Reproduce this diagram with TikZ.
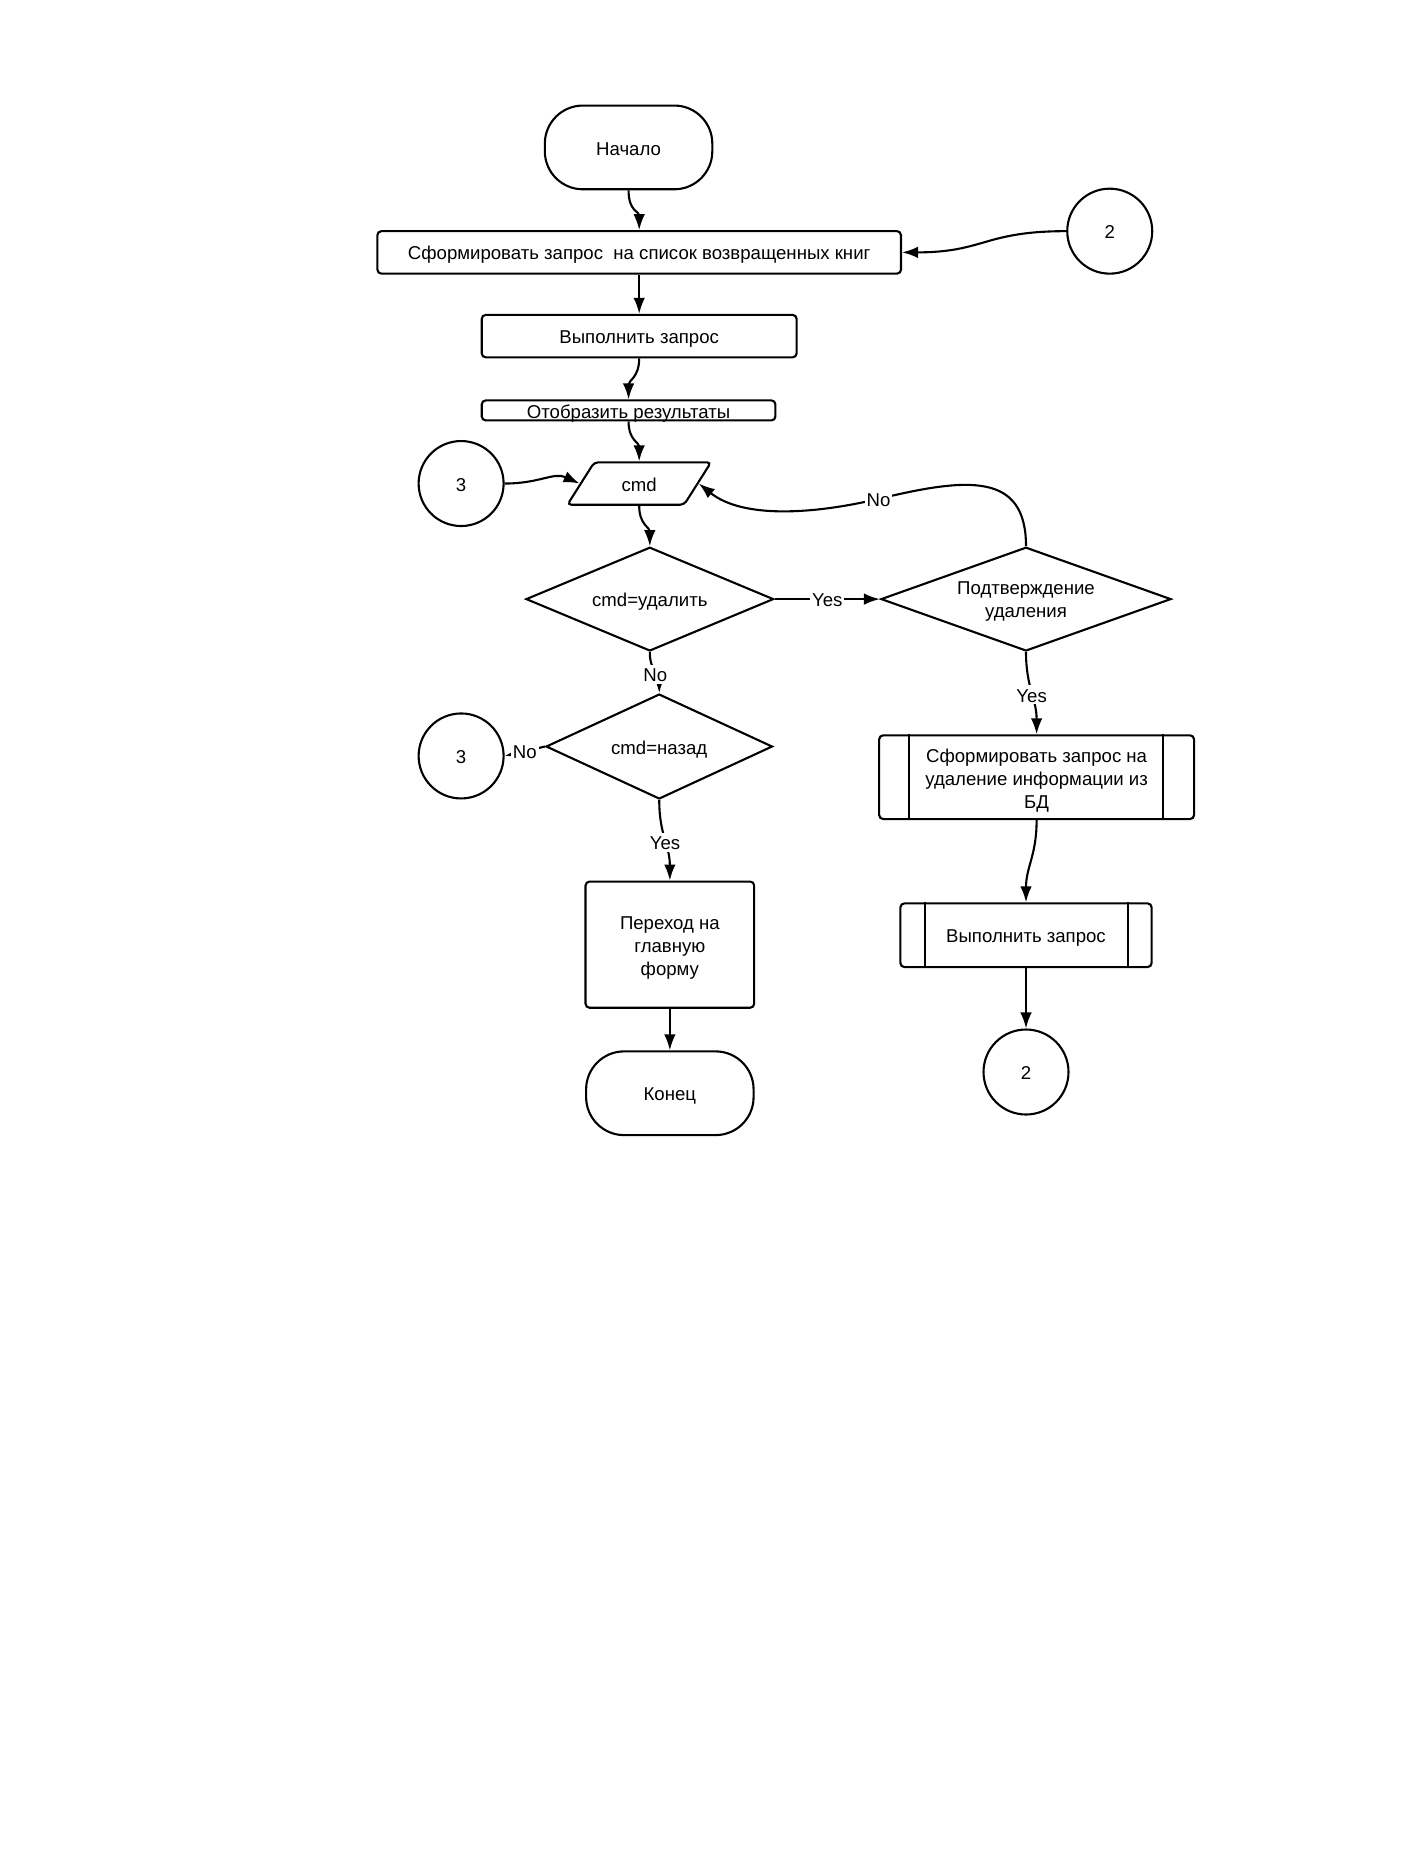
\documentclass[tikz,border=0pt]{standalone}
\usepackage{fontspec}
\setmainfont{Liberation Sans}
\usetikzlibrary{shapes.geometric,arrows.meta}
\begin{document}
\begin{tikzpicture}[x=0.5897pt,y=-0.5897pt,
  every node/.style={font=\fontsize{9.3}{11.5}\selectfont},
  sz/.style 2 args={minimum width=#1*0.5897pt,minimum height=#2*0.5897pt},
  txt/.style={text height=7.6pt,text depth=0pt},
  base/.style={draw,line width=1.05pt,inner sep=1pt,align=center,txt},
  term/.style={base,rectangle,rounded corners=19pt,sz={142}{71}},
  procbox/.style={base,rectangle,rounded corners=2pt},
  conn/.style={base,circle,minimum size=42.5pt},
  decide/.style={base,diamond,inner sep=0pt,shape aspect=2.6},
  io/.style={base,trapezium,trapezium left angle=58.6,trapezium right angle=121.4,trapezium stretches=true,rounded corners=2pt,sz={122}{36}},
  multi/.style={align=center,inner sep=0pt},
  bar/.style={line width=1.05pt},
  arr/.style={line width=1.05pt,-{Latex[length=8pt,width=5.8pt]}},
  lbl/.style={fill=white,inner sep=1pt,txt}]
\useasboundingbox (0,0) rectangle (1210,1570.4);
% nodes
\node[term] (start) at (533,125) {Начало};
\node[conn] (c2a) at (941,196) {2};
\node[procbox,sz={444}{36}] (b1) at (542,214) {Сформировать запрос\ \ на список возвращенных книг};
\node[procbox,sz={267}{36}] (b2) at (542,285) {Выполнить запрос};
\node[procbox,sz={249}{17},inner sep=0pt,text height=0pt] (b3) at (533,348) {};
\node[inner sep=0pt,txt] (b3t) at (533,348) {Отобразить результаты};
\node[io] (cmd) at (542,410) {cmd};
\node[conn] (c3a) at (391,410) {3};
\node[decide,sz={210}{88}] (d1) at (551,508) {cmd=удалить};
\node[decide,sz={246}{88}] (d2) at (870,508) {};
\node[multi] (d2t) at (870,510) {Подтверждение\\удаления};
\node[decide,sz={192}{89}] (d3) at (559,633) {cmd=назад};
\node[conn] (c3b) at (391,641) {3};
\node[procbox,sz={267}{71}] (s1) at (879,659) {};
\node[multi] (s1t) at (879,662) {Сформировать запрос на\\удаление информации из\\БД};
\draw[bar] ([xshift=15.3pt]s1.north west) -- ([xshift=15.3pt]s1.south west);
\draw[bar] ([xshift=-15.9pt]s1.north east) -- ([xshift=-15.9pt]s1.south east);
\node[procbox,sz={213}{54}] (s2) at (870,793) {Выполнить запрос};
\draw[bar] ([xshift=13pt]s2.north west) -- ([xshift=13pt]s2.south west);
\draw[bar] ([xshift=-12.4pt]s2.north east) -- ([xshift=-12.4pt]s2.south east);
\node[conn] (c2b) at (870,909) {2};
\node[procbox,sz={143}{107}] (go) at (568,801) {};
\node[multi] (got) at (568,804) {Переход на\\главную\\форму};
\node[term] (fin) at (568,927) {Конец};
% connectors
\draw[arr] (start.south) .. controls +(0,18) and +(0,-16) .. (b1.north);
\draw[arr] (c2a.west) .. controls +(-70,0) and +(70,0) .. (b1.east);
\draw[arr] (b1.south) -- (b2.north);
\draw[arr] (b2.south) .. controls +(0,16) and +(0,-16) .. (b3.north);
\draw[arr] (b3.south) .. controls +(0,16) and +(0,-16) .. (cmd.north);
\draw[arr] (c3a.east) .. controls +(30,0) and +(-22,-10) .. (cmd.west);
\draw[arr] (cmd.south) .. controls +(0,16) and +(0,-16) .. (d1.north);
\draw[arr] (d1.east) -- node[lbl,pos=0.5] {Yes} (d2.west);
\draw[arr] (d2.north) .. controls (870,400) and (820,405) .. (745,423) node[lbl] {No}
  .. controls (690,436) and (630,440) .. (cmd.east);
\draw[arr] (d1.south) .. controls +(0,16) and +(0,-16) .. node[lbl,pos=0.55] {No} (d3.north);
\draw[arr] (d3.west) -- node[lbl,pos=0.5] {No} (c3b.east);
\draw[arr] (d3.south) .. controls +(0,30) and +(0,-30) .. node[lbl,pos=0.53] {Yes} (go.north);
\draw[arr] (d2.south) .. controls +(0,30) and +(0,-30) .. node[lbl,pos=0.52] {Yes} (s1.north);
\draw[arr] (s1.south) .. controls +(0,30) and +(0,-30) .. (s2.north);
\draw[arr] (s2.south) -- (c2b.north);
\draw[arr] (go.south) -- (fin.north);
\end{tikzpicture}
\end{document}
